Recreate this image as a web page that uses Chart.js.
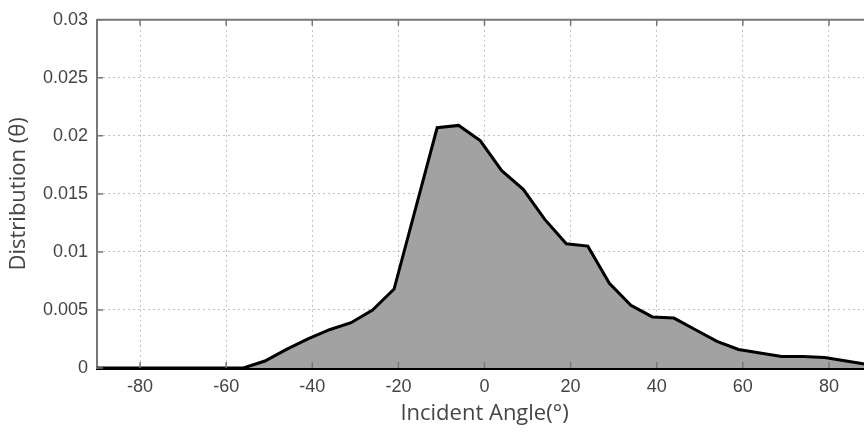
<!DOCTYPE html>
<html>
<head>
<meta charset="utf-8">
<script src="https://cdn.jsdelivr.net/npm/chart.js@4.4.1/dist/chart.umd.min.js"></script>
<style>
  html, body { margin: 0; padding: 0; background: #fff; overflow: hidden; }
  #wrap { position: relative; width: 872px; height: 435px; }
</style>
</head>
<body>
<div id="wrap"><canvas id="distchart"></canvas></div>
<script>
// incident angle (deg) and distribution values
const angles = [-90, -56, -51, -46, -41, -36, -31, -26, -21, -11, -6, -1, 4, 9, 14, 19, 24, 29, 34, 39, 44, 49, 54, 59, 64, 69, 74, 79, 84, 89];
const distribution = [0, 0, 0.0006, 0.0016, 0.0025, 0.0033, 0.0039, 0.005, 0.0068, 0.0207, 0.0209, 0.0196, 0.017, 0.0154, 0.0128, 0.0107, 0.0105, 0.0073, 0.0054, 0.0044, 0.0043, 0.0033, 0.0023, 0.0016, 0.0013, 0.001, 0.001, 0.0009, 0.0006, 0.0003];
const xTicks = [-80, -60, -40, -20, 0, 20, 40, 60, 80];
const yTicks = [0, 0.005, 0.01, 0.015, 0.02, 0.025, 0.03];
const yTickLabels = ['0', '0.005', '0.01', '0.015', '0.02', '0.025', '0.03'];

const points = angles.map((a, i) => ({ x: a, y: distribution[i] }));

// frame on top + small inward tick marks like the original
const framePlugin = {
    id: 'frame',
    afterDraw(chart) {
        const { ctx, chartArea: a, scales } = chart;
        ctx.save();
        ctx.strokeStyle = '#777';
        ctx.lineWidth = 2;
        ctx.beginPath();
        ctx.moveTo(a.left, a.top);
        ctx.lineTo(a.right, a.top);
        ctx.stroke();
        ctx.lineWidth = 1.5;
        ctx.beginPath();
        xTicks.forEach(v => {
            const px = scales.x.getPixelForValue(v);
            ctx.moveTo(px, a.top);
            ctx.lineTo(px, a.top + 6);
            ctx.moveTo(px, a.bottom);
            ctx.lineTo(px, a.bottom - 6);
        });
        yTicks.forEach(v => {
            const py = scales.y.getPixelForValue(v);
            ctx.moveTo(a.left, py);
            ctx.lineTo(a.left + 6, py);
        });
        ctx.stroke();
        ctx.restore();
    }
};

const ctx = document.getElementById('distchart').getContext('2d');
new Chart(ctx, {
    type: 'line',
    data: {
        datasets: [{
            data: points,
            borderColor: '#000',
            borderWidth: 3,
            backgroundColor: '#a2a2a2',
            fill: 'origin',
            pointRadius: 0,
            tension: 0
        }]
    },
    options: {
        responsive: true,
        maintainAspectRatio: false,
        animation: false,
        layout: { padding: { top: 15, right: 0, left: 0, bottom: 0 } },
        plugins: {
            legend: { display: false },
            tooltip: { enabled: false }
        },
        scales: {
            x: {
                type: 'linear',
                min: -90,
                max: 90,
                afterBuildTicks: scale => { scale.ticks = xTicks.map(v => ({ value: v })); },
                afterFit: scale => { scale.height = 67; },
                border: { display: true, color: '#000', width: 3, dash: [2, 3] },
                grid: { color: '#c0c0c0', drawTicks: false },
                ticks: {
                    padding: 8,
                    color: '#444',
                    font: { family: 'Liberation Sans', size: 18 }
                },
                title: {
                    display: true,
                    text: 'Incident Angle(°)',
                    color: '#444',
                    padding: { top: 0, bottom: 8 },
                    font: { family: 'Open Sans', size: 22 }
                }
            },
            y: {
                min: 0,
                max: 0.03,
                afterBuildTicks: scale => { scale.ticks = yTicks.map(v => ({ value: v })); },
                afterFit: scale => { scale.width = 97; },
                border: { display: true, color: '#777', width: 2, dash: [2, 3] },
                grid: { color: '#c0c0c0', drawTicks: false },
                ticks: {
                    padding: 9,
                    color: '#444',
                    font: { family: 'Liberation Sans', size: 18 },
                    callback: (v, i) => yTickLabels[i]
                },
                title: {
                    display: true,
                    text: 'Distribution (θ)',
                    color: '#444',
                    padding: { top: 6, bottom: 0 },
                    font: { family: 'Open Sans', size: 22 }
                }
            }
        }
    },
    plugins: [framePlugin]
});
</script>
</body>
</html>
